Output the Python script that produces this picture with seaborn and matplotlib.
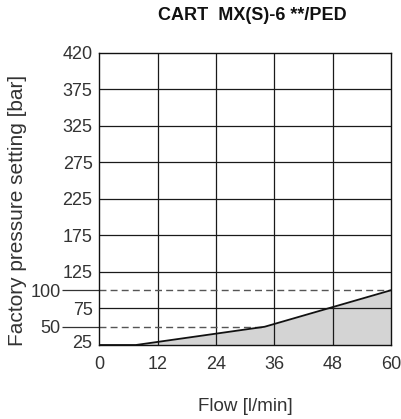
import matplotlib
matplotlib.use("Agg")
import matplotlib.pyplot as plt
import matplotlib.transforms as mtransforms
import seaborn as sns
import numpy as np
import pandas as pd

# curve
flow = [0, 7.5, 34, 60]
pressure = [25, 25, 50, 100]

x_ticks = [0, 12, 24, 36, 48, 60]
y_grid = [75, 125, 175, 225, 275, 325, 375]
y_ticks = [25, 75, 125, 175, 225, 275, 325, 375, 425]
y_labels = ["25", "75", "125", "175", "225", "275", "325", "375", "420"]
y_marks = [50, 100]  # dashed reference levels with long ticks

sns.set_style("white")
plt.rcParams["font.family"] = ["Liberation Sans", "DejaVu Sans"]
txt = "#333333"

fig = plt.figure(figsize=(4.01, 4.19), dpi=100)
ax = fig.add_axes([0.248, 0.1766, 0.727, 0.697])

df = pd.DataFrame({"flow": flow, "pressure": pressure})
ax.fill_between(df["flow"], 25, df["pressure"], color="#d4d4d4", lw=0, zorder=1)

for x in x_ticks[1:-1]:
    ax.axvline(x, color="#1a1a1a", lw=0.9, zorder=2)
for y in y_grid:
    ax.axhline(y, color="#1a1a1a", lw=0.9, zorder=2)

# dashed reference lines: 50 stops at the kink, 100 runs to the right edge
ax.hlines(y_marks[0], 0, flow[2], color="#555555", lw=1.0, ls=(0, (5, 3)), zorder=2)
ax.hlines(y_marks[1], 0, flow[-1], color="#555555", lw=1.0, ls=(0, (5, 3)), zorder=2)

sns.lineplot(data=df, x="flow", y="pressure", color="#111111", lw=1.3, ax=ax, zorder=3)

ax.set_xlim(0, 60)
ax.set_ylim(25, 425)
ax.set_xticks(x_ticks)
ax.set_xticklabels([str(v) for v in x_ticks])
ax.set_yticks(y_ticks)
ax.set_yticklabels(y_labels)
ax.set_yticks(y_marks, minor=True)
ax.set_yticklabels([str(v) for v in y_marks], minor=True)

ax.tick_params(axis="both", which="major", length=0, labelsize=13, colors=txt, pad=5)
ax.tick_params(axis="y", which="minor", left=True, length=27, width=0.9, color="#333333",
               labelsize=13, labelcolor=txt, pad=1, direction="out")
ax.tick_params(axis="x", which="major", pad=8)

# nudge the bottom label up a little like the original
lbl = ax.get_yticklabels()[0]
lbl.set_transform(lbl.get_transform() + mtransforms.ScaledTranslation(0, 4 / 100, fig.dpi_scale_trans))

for s in ax.spines.values():
    s.set_color("#111111")
    s.set_linewidth(1.0)

ax.set_xlabel("Flow [l/min]", fontsize=13.5, color=txt, labelpad=18)
ax.set_ylabel("Factory pressure setting [bar]", fontsize=15, color=txt)
ax.yaxis.set_label_coords(-0.25, 0.46)
fig.text(0.628, 0.963, "CART  MX(S)-6 **/PED", fontsize=13, fontweight="bold",
         ha="center", va="center", color="#111111")

fig.savefig("out.png", dpi=100)
